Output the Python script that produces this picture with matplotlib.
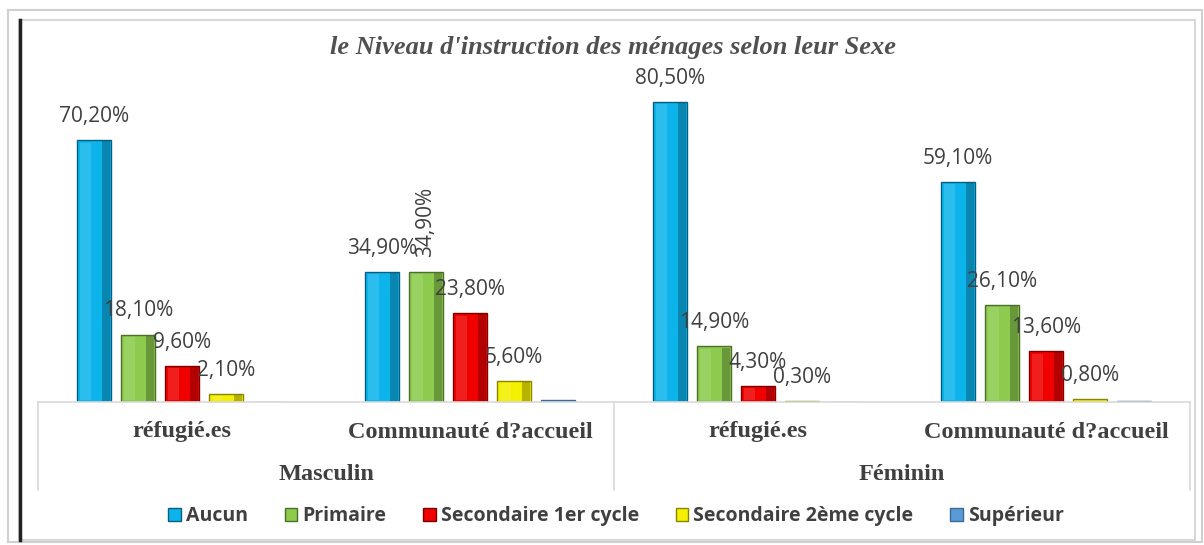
import matplotlib
matplotlib.use("Agg")
import matplotlib.pyplot as plt
import numpy as np
from matplotlib.patches import Rectangle
from matplotlib.lines import Line2D

# data (% of households)
sexes = ["Masculin", "Féminin"]
groupes = ["réfugié.es", "Communauté d?accueil", "réfugié.es", "Communauté d?accueil"]
niveaux = ["Aucun", "Primaire", "Secondaire 1er cycle", "Secondaire 2ème cycle", "Supérieur"]
aucun = [70.2, 34.9, 80.5, 59.1]
primaire = [18.1, 34.9, 14.9, 26.1]
secondaire1 = [9.6, 23.8, 4.3, 13.6]
secondaire2 = [2.1, 5.6, 0.3, 0.8]
superieur = [0.0, 0.5, 0.0, 0.4]
labels_txt = [
    ["70,20%", "34,90%", "80,50%", "59,10%"],
    ["18,10%", "34,90%", "14,90%", "26,10%"],
    ["9,60%", "23,80%", "4,30%", "13,60%"],
    ["2,10%", "5,60%", "0,30%", "0,80%"],
    [None, None, None, None],
]

faces = ["#0DB4EC", "#8CCB4E", "#F00000", "#F4F000", "#5B9BD5"]
edges = ["#075E80", "#4B6E28", "#7A0000", "#8A8400", "#3A6A99"]

txt = "#404040"
W, H = 1204, 545
fig = plt.figure(figsize=(W / 100, H / 100), dpi=100)

# frame around the chart
fig.patches.append(Rectangle((8 / W, 1 - 542 / H), 1194 / W, 532 / H, transform=fig.transFigure,
                             fill=False, ec="#D0D0D0", lw=1.5))
fig.patches.append(Rectangle((19 / W, 1 - 540 / H), 1176 / W, 520 / H, transform=fig.transFigure,
                             fill=False, ec="#D8D8D8", lw=1.5))
fig.lines.append(Line2D([20 / W, 20 / W], [1 - 540 / H, 1 - 20 / H], transform=fig.transFigure,
                        color="#222222", lw=2.5))

ax = fig.add_axes([38 / W, 1 - 402 / H, 1152 / W, 372.7 / H])
ax.set_xlim(-0.5, 3.5)
ax.set_ylim(0, 100)
ax.axis("off")

series = [aucun, primaire, secondaire1, secondaire2, superieur]
x = np.arange(len(groupes))
step = 0.153
bw = 0.118
for i, vals in enumerate(series):
    xs = x + (i - 2) * step
    ax.bar(xs, vals, width=bw, color=faces[i], edgecolor=edges[i], linewidth=1.0, label=niveaux[i])
    # bevel look: light strip left, dark strip right
    for xx, v in zip(xs, vals):
        if v > 1:
            ax.add_patch(Rectangle((xx - bw / 2 + 0.012, 0.6), bw * 0.3, v - 1.2,
                                   fc="white", alpha=0.12, lw=0))
            ax.add_patch(Rectangle((xx + bw / 2 - 0.03, 0.3), 0.026, v - 0.6,
                                   fc="black", alpha=0.25, lw=0))
    for j, (xx, v) in enumerate(zip(xs, vals)):
        lab = labels_txt[i][j]
        if lab is None:
            continue
        if i == 1 and j == 1:
            ax.annotate(lab, (xx, v), xytext=(0, 11), textcoords="offset points",
                        ha="center", va="bottom", rotation=90, fontsize=15,
                        family="Open Sans", color=txt)
        else:
            ax.annotate(lab, (xx, v), xytext=(0, 9.5), textcoords="offset points",
                        ha="center", va="bottom", fontsize=15, family="Open Sans", color=txt)

# category axis boxes
gc = "#D9D9D9"
ax.plot([-0.5, 3.5], [0, 0], color=gc, lw=1.2, clip_on=False)
for xv in [-0.5, 1.5, 3.5]:
    ax.plot([xv, xv], [0, -88 / 3.727], color=gc, lw=1.2, clip_on=False)

for j, g in enumerate(groupes):
    ax.text(j, -30 / 3.727, g, ha="center", va="center", fontsize=17.5, fontweight="bold",
            family="Liberation Serif", color=txt)
for k, s in enumerate(sexes):
    ax.text(0.5 + 2 * k, -72 / 3.727, s, ha="center", va="center", fontsize=17.5, fontweight="bold",
            family="Liberation Serif", color=txt)

fig.text(613 / W, 1 - 47 / H, "le Niveau d'instruction des ménages selon leur Sexe",
         ha="center", va="center", fontsize=19, fontweight="bold", style="italic",
         family="Liberation Serif", color="#505050")

handles, labs = ax.get_legend_handles_labels()
leg = fig.legend(handles, labs, loc="center", bbox_to_anchor=(616 / W, 1 - 516 / H), ncol=5,
                 frameon=False, prop={"family": "Open Sans", "weight": "bold", "size": 14},
                 handlelength=0.65, handleheight=0.65, handletextpad=0.25, columnspacing=1.9)
for t in leg.get_texts():
    t.set_color(txt)

plt.savefig("out.png", dpi=100)
